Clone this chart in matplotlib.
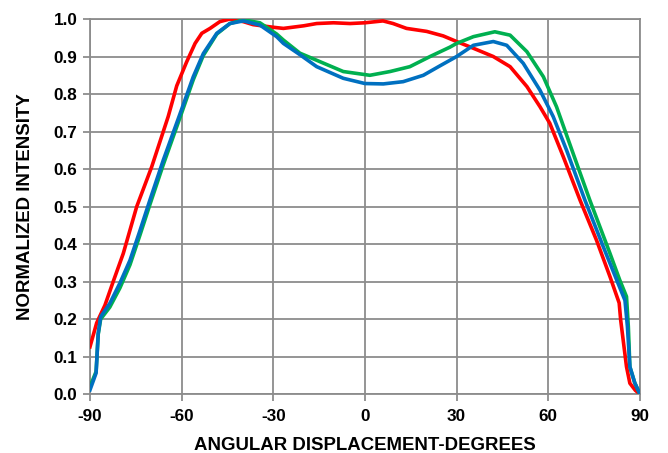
import matplotlib
matplotlib.use("Agg")
import matplotlib.pyplot as plt

# ---------------------------------------------------------------------------
# data (degrees, normalized intensity)
# ---------------------------------------------------------------------------
red_deg = [-90, -87.8, -85.1, -82.4, -79.1, -74.7, -69.8, -64.4, -61.6, -58.4,
           -55.6, -53.4, -50.7, -47.5, -44.2, -39.8, -36.6, -30, -26.7, -20,
           -15.8, -10.3, -4.9, 0, 5.9, 9.2, 13.6, 20.2, 25.6, 30, 35.5, 42,
           47.5, 53, 57.3, 60.5, 64.9, 70.4, 75.8, 80.2, 83.2, 83.7, 85.6,
           86.7, 88.5, 90]
red_val = [0.126, 0.19, 0.237, 0.30, 0.375, 0.50, 0.606, 0.74, 0.822, 0.885,
           0.935, 0.962, 0.975, 0.993, 1.0, 0.993, 0.985, 0.978, 0.975, 0.982,
           0.988, 0.99, 0.988, 0.99, 0.995, 0.988, 0.975, 0.967, 0.955, 0.94,
           0.922, 0.90, 0.873, 0.82, 0.766, 0.722, 0.633, 0.517, 0.41, 0.313,
           0.243, 0.197, 0.073, 0.029, 0.01, 0.0]

blue_deg = [-90, -88, -87.3, -86.5, -83.5, -80.2, -76.9, -73.6, -70.4, -66,
            -60.5, -56.2, -52.9, -48.5, -44.2, -39.8, -34.4, -28.9, -26.7,
            -21.3, -15.8, -7.1, 0, 6, 12.5, 19.1, 24.5, 30, 35.5, 42, 46.4,
            51.8, 57.3, 61.6, 66, 72, 78, 82.4, 85.1, 85.9, 86.7, 88.3, 90]
blue_val = [0.011, 0.056, 0.162, 0.206, 0.242, 0.296, 0.357, 0.437, 0.517,
            0.624, 0.748, 0.846, 0.908, 0.962, 0.988, 0.995, 0.984, 0.953,
            0.935, 0.905, 0.873, 0.842, 0.828, 0.827, 0.833, 0.85, 0.875,
            0.90, 0.93, 0.94, 0.93, 0.882, 0.81, 0.74, 0.65, 0.517, 0.393,
            0.304, 0.25, 0.18, 0.073, 0.03, 0.0]

green_deg = [-90, -88, -87.3, -86.5, -83.5, -80.2, -76.9, -73.6, -70.4, -66,
             -60.5, -56.2, -52.9, -48.5, -44.2, -39.8, -34.4, -28.9, -26.7,
             -21.3, -15.8, -7.1, 1.6, 8.2, 14.7, 21.3, 27.8, 30, 35.5, 42.5,
             47.5, 53, 58.4, 62.7, 68.2, 73.6, 80.2, 83.4, 85.6, 86.2, 86.7,
             88.3, 90]
green_val = [0.02, 0.06, 0.16, 0.2, 0.232, 0.283, 0.345, 0.425, 0.505, 0.612,
             0.738, 0.838, 0.903, 0.96, 0.988, 0.998, 0.99, 0.96, 0.944,
             0.909, 0.89, 0.86, 0.85, 0.86, 0.873, 0.90, 0.925, 0.935, 0.953,
             0.966, 0.957, 0.913, 0.846, 0.766, 0.64, 0.517, 0.375, 0.304,
             0.26, 0.18, 0.073, 0.03, 0.0]

x_ticks = [-90, -60, -30, 0, 30, 60, 90]
y_ticks = [0.0, 0.1, 0.2, 0.3, 0.4, 0.5, 0.6, 0.7, 0.8, 0.9, 1.0]

plt.rcParams["font.family"] = ["Liberation Sans", "DejaVu Sans"]
plt.rcParams["font.weight"] = "bold"
plt.rcParams["axes.unicode_minus"] = False

fig = plt.figure(figsize=(6.68, 4.53), dpi=100)
ax = fig.add_axes([0.1347, 0.130, 0.8233, 0.828])

grid_c = "#8c8c8c"
ax.plot(red_deg, red_val, color="#ff0000", lw=2.6, zorder=3)
ax.plot(green_deg, green_val, color="#00b050", lw=2.6, zorder=3)
ax.plot(blue_deg, blue_val, color="#0070c0", lw=2.6, zorder=4)

ax.set_xlim(-90, 90)
ax.set_ylim(0, 1.0)
ax.set_xticks(x_ticks)
ax.set_yticks(y_ticks)
ax.set_yticklabels([f"{v:.1f}" for v in y_ticks])
ax.grid(True, color=grid_c, lw=1.3, zorder=0)
for s in ax.spines.values():
    s.set_color(grid_c)
    s.set_linewidth(1.3)
ax.tick_params(direction="out", length=5, width=1.3, color=grid_c,
               labelsize=12.3, pad=4)
ax.tick_params(axis="x", pad=6)
for lbl in ax.get_xticklabels() + ax.get_yticklabels():
    lbl.set_fontweight("bold")

ax.set_xlabel("ANGULAR DISPLACEMENT-DEGREES", fontsize=13.4, fontweight="bold", labelpad=9)
ax.set_ylabel("NORMALIZED INTENSITY", fontsize=13.4, fontweight="bold", labelpad=14)

fig.savefig("out.png", dpi=100)
